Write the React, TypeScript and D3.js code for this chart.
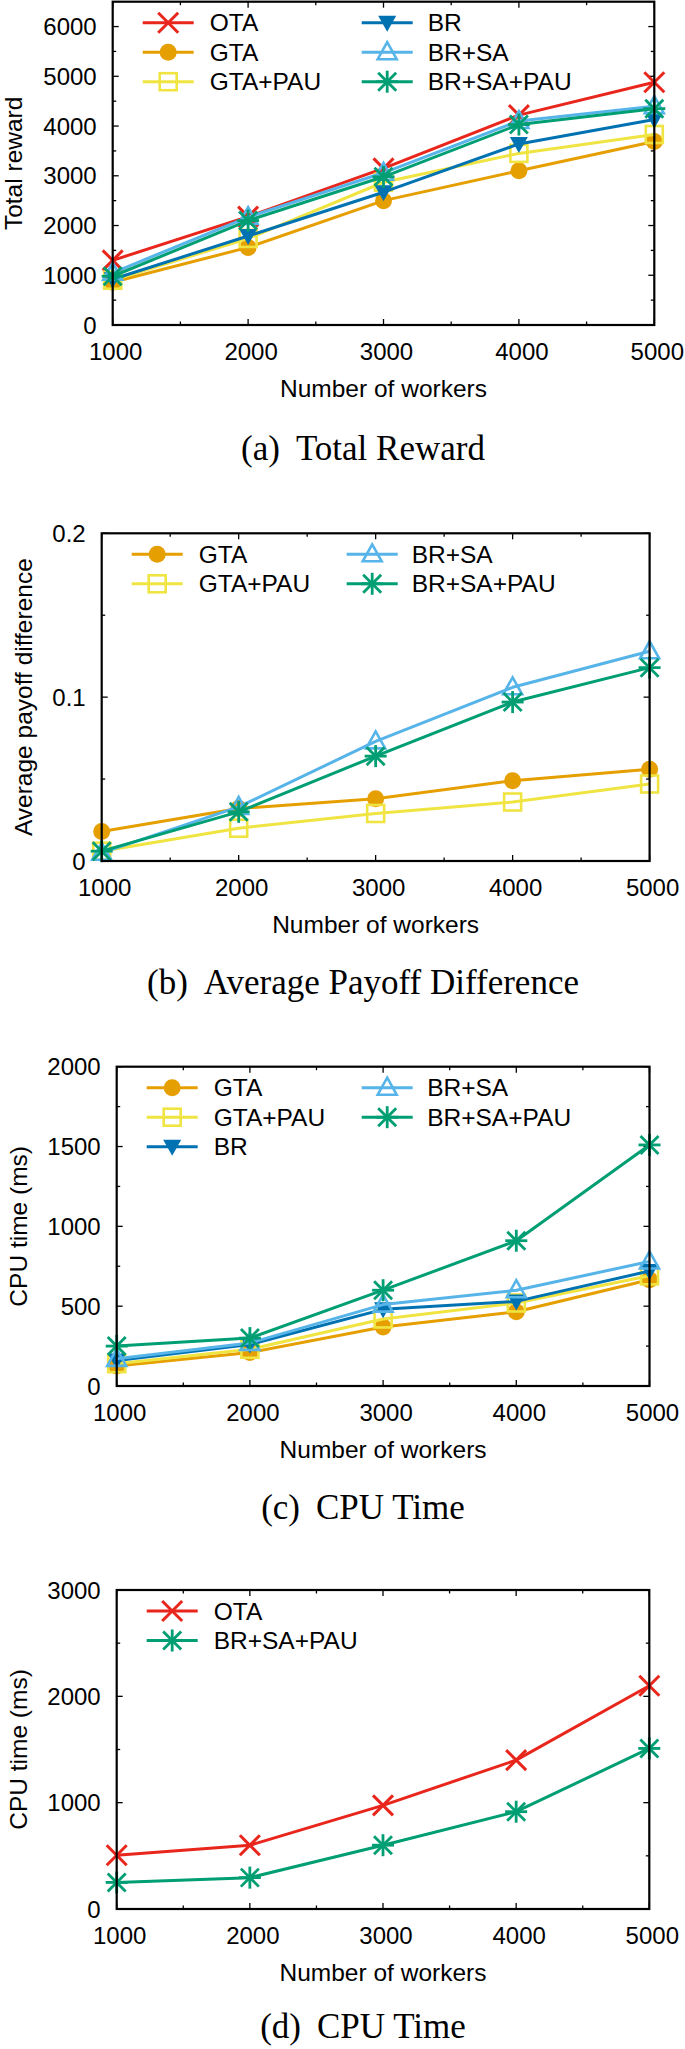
import React from "react";
import * as d3 from "d3";

// ---------- data ----------
const workers = [1000, 2000, 3000, 4000, 5000];
const xTicks = [1000, 2000, 3000, 4000, 5000];

// (a) Total reward
const rewardOTA = [1300, 2180, 3150, 4220, 4880];
const rewardGTA = [860, 1560, 2500, 3100, 3690];
const rewardGTAPAU = [900, 1740, 2870, 3450, 3830];
const rewardBR = [920, 1790, 2670, 3640, 4130];
const rewardBRSA = [1050, 2170, 3060, 4100, 4400];
const rewardBRSAPAU = [980, 2100, 2980, 4030, 4350];

// (b) Average payoff difference
const payoffGTA = [0.018, 0.032, 0.038, 0.049, 0.056];
const payoffGTAPAU = [0.006, 0.02, 0.029, 0.036, 0.047];
const payoffBRSA = [0.005, 0.033, 0.073, 0.106, 0.128];
const payoffBRSAPAU = [0.006, 0.03, 0.064, 0.097, 0.118];

// (c) CPU time
const cpuGTA = [125, 210, 370, 465, 665];
const cpuGTAPAU = [140, 230, 420, 520, 690];
const cpuBR = [160, 260, 480, 530, 720];
const cpuBRSA = [170, 270, 510, 600, 780];
const cpuBRSAPAU = [250, 300, 600, 910, 1510];

// (d) CPU time
const cpu2OTA = [505, 600, 975, 1400, 2100];
const cpu2BRSAPAU = [250, 295, 600, 915, 1510];

const yTicksA = [0, 1000, 2000, 3000, 4000, 5000, 6000];
const yTicksB = [0, 0.1, 0.2];
const yTicksC = [0, 500, 1000, 1500, 2000];
const yTicksD = [0, 1000, 2000, 3000];

// ---------- styles ----------
const STYLE: Record<string, { color: string; shape: string }> = {
  OTA: { color: "#e8261c", shape: "x" },
  GTA: { color: "#e69f00", shape: "circle" },
  "GTA+PAU": { color: "#f0e442", shape: "square" },
  BR: { color: "#0072b2", shape: "tridown" },
  "BR+SA": { color: "#56b4e9", shape: "triup" },
  "BR+SA+PAU": { color: "#009e73", shape: "star" },
};

const SANS = "'Liberation Sans', Arial, Helvetica, sans-serif";
const SERIF = "'Liberation Serif', 'Times New Roman', serif";

function Marker({ shape, color, x, y }: { shape: string; color: string; x: number; y: number }) {
  const s = 10;
  switch (shape) {
    case "x":
      return (
        <g stroke={color} strokeWidth={3}>
          <line x1={x - s} y1={y - s} x2={x + s} y2={y + s} />
          <line x1={x - s} y1={y + s} x2={x + s} y2={y - s} />
        </g>
      );
    case "circle":
      return <circle cx={x} cy={y} r={8.5} fill={color} />;
    case "square":
      return <rect x={x - 8.5} y={y - 8.5} width={17} height={17} fill="none" stroke={color} strokeWidth={2.6} />;
    case "tridown":
      return <path d={`M${x - 9},${y - 7}L${x + 9},${y - 7}L${x},${y + 9}Z`} fill={color} />;
    case "triup":
      return <path d={`M${x - 9.5},${y + 7}L${x + 9.5},${y + 7}L${x},${y - 10}Z`} fill="none" stroke={color} strokeWidth={2.6} />;
    case "star":
      return (
        <g stroke={color} strokeWidth={2.8}>
          <line x1={x - 9} y1={y - 9} x2={x + 9} y2={y + 9} />
          <line x1={x - 9} y1={y + 9} x2={x + 9} y2={y - 9} />
          <line x1={x} y1={y - 11} x2={x} y2={y + 11} />
          <line x1={x - 11} y1={y} x2={x + 11} y2={y} />
        </g>
      );
  }
  return null;
}

type Series = { name: string; values: number[] };
type PanelProps = {
  left: number; right: number; top: number; bottom: number;
  yMax: number; yTicks: number[]; yMinor: number; fmt: (v: number) => string;
  series: Series[]; rows: number; col2Line: number; col2Text: number;
  yTitle: string; yTitleX: number; caption: [string, string]; captionY: number;
};

function Panel(p: PanelProps) {
  const x = d3.scaleLinear().domain([1000, 5000]).range([p.left, p.right]);
  const y = d3.scaleLinear().domain([0, p.yMax]).range([p.bottom, p.top]);
  const line = d3.line<number>().x((_, i) => x(workers[i])).y((v) => y(v));
  const xMinor = d3.range(1500, 5000, 1000);
  const yMinor = d3.range(p.yMinor, p.yMax, p.yMinor * 2);
  const cx = (p.left + p.right) / 2;
  const cy = (p.top + p.bottom) / 2;
  return (
    <g>
      {/* ticks */}
      <g stroke="#000" strokeWidth={1.3}>
        {xTicks.map((t) => (
          <g key={"xt" + t}>
            <line x1={x(t)} x2={x(t)} y1={p.bottom} y2={p.bottom - 6} />
            <line x1={x(t)} x2={x(t)} y1={p.top} y2={p.top + 6} />
          </g>
        ))}
        {xMinor.map((t) => (
          <g key={"xm" + t}>
            <line x1={x(t)} x2={x(t)} y1={p.bottom} y2={p.bottom - 3.5} />
            <line x1={x(t)} x2={x(t)} y1={p.top} y2={p.top + 3.5} />
          </g>
        ))}
        {p.yTicks.map((t) => (
          <g key={"yt" + t}>
            <line x1={p.left} x2={p.left + 6} y1={y(t)} y2={y(t)} />
            <line x1={p.right} x2={p.right - 6} y1={y(t)} y2={y(t)} />
          </g>
        ))}
        {yMinor.map((t) => (
          <g key={"ym" + t}>
            <line x1={p.left} x2={p.left + 3.5} y1={y(t)} y2={y(t)} />
            <line x1={p.right} x2={p.right - 3.5} y1={y(t)} y2={y(t)} />
          </g>
        ))}
      </g>
      {/* data */}
      {p.series.map((s) => {
        const st = STYLE[s.name];
        return (
          <g key={s.name}>
            <path d={line(s.values) || ""} fill="none" stroke={st.color} strokeWidth={3} strokeLinejoin="round" />
            {s.values.map((v, i) => (
              <Marker key={i} shape={st.shape} color={st.color} x={x(workers[i])} y={y(v)} />
            ))}
          </g>
        );
      })}
      {/* frame */}
      <rect x={p.left} y={p.top} width={p.right - p.left} height={p.bottom - p.top} fill="none" stroke="#000" strokeWidth={2.2} />
      {/* legend */}
      {p.series.map((s, i) => {
        const st = STYLE[s.name];
        const col = Math.floor(i / p.rows);
        const row = i % p.rows;
        const ly = p.top + 21 + row * 29.5;
        const lx = p.left + (col === 0 ? 30 : p.col2Line);
        const tx = p.left + (col === 0 ? 97 : p.col2Text);
        return (
          <g key={"lg" + s.name}>
            <line x1={lx} x2={lx + 51} y1={ly} y2={ly} stroke={st.color} strokeWidth={3} />
            <Marker shape={st.shape} color={st.color} x={lx + 25.5} y={ly} />
            <text x={tx} y={ly} dominantBaseline="central" fontFamily={SANS} fontSize={24.5} fill="#000">
              {s.name}
            </text>
          </g>
        );
      })}
      {/* tick labels */}
      <g fontFamily={SANS} fontSize={24} fill="#000">
        {xTicks.map((t) => (
          <text key={"xl" + t} x={x(t) + 3} y={p.bottom + 35} textAnchor="middle">
            {t}
          </text>
        ))}
        {p.yTicks.map((t) => (
          <text key={"yl" + t} x={p.left - 16} y={y(t)} textAnchor="end" dominantBaseline="central">
            {p.fmt(t)}
          </text>
        ))}
      </g>
      <text x={cx} y={p.bottom + 72} textAnchor="middle" fontFamily={SANS} fontSize={24.5}>
        Number of workers
      </text>
      <text transform={`translate(${p.yTitleX},${cy}) rotate(-90)`} textAnchor="middle" fontFamily={SANS} fontSize={24.5}>
        {p.yTitle}
      </text>
      <text x={363} y={p.captionY} textAnchor="middle" fontFamily={SERIF} fontSize={35}>
        {p.caption[0]}
        <tspan dx={16}>{p.caption[1]}</tspan>
      </text>
    </g>
  );
}

export default function App() {
  const intFmt = (v: number) => String(v);
  const decFmt = (v: number) => (v === 0 ? "0" : d3.format(".1f")(v));
  return (
    <svg width={685} height={2049} style={{ position: "absolute", left: 0, top: 0, background: "#fff" }}>
      <rect width={685} height={2049} fill="#fff" />
      <Panel
        left={112.7} right={654.3} top={1.7} bottom={325}
        yMax={6500} yTicks={yTicksA} yMinor={500} fmt={intFmt}
        series={[
          { name: "OTA", values: rewardOTA },
          { name: "GTA", values: rewardGTA },
          { name: "GTA+PAU", values: rewardGTAPAU },
          { name: "BR", values: rewardBR },
          { name: "BR+SA", values: rewardBRSA },
          { name: "BR+SA+PAU", values: rewardBRSAPAU },
        ]}
        rows={3} col2Line={249} col2Text={315}
        yTitle="Total reward" yTitleX={22} caption={["(a)", "Total Reward"]} captionY={460}
      />
      <Panel
        left={101.7} right={649.6} top={533.3} bottom={861}
        yMax={0.2} yTicks={yTicksB} yMinor={0.05} fmt={decFmt}
        series={[
          { name: "GTA", values: payoffGTA },
          { name: "GTA+PAU", values: payoffGTAPAU },
          { name: "BR+SA", values: payoffBRSA },
          { name: "BR+SA+PAU", values: payoffBRSAPAU },
        ]}
        rows={2} col2Line={245} col2Text={310}
        yTitle="Average payoff difference" yTitleX={31.5} caption={["(b)", "Average Payoff Difference"]} captionY={994}
      />
      <Panel
        left={116.7} right={649.5} top={1066.7} bottom={1386}
        yMax={2000} yTicks={yTicksC} yMinor={250} fmt={intFmt}
        series={[
          { name: "GTA", values: cpuGTA },
          { name: "GTA+PAU", values: cpuGTAPAU },
          { name: "BR", values: cpuBR },
          { name: "BR+SA", values: cpuBRSA },
          { name: "BR+SA+PAU", values: cpuBRSAPAU },
        ]}
        rows={3} col2Line={245} col2Text={310.5}
        yTitle="CPU time (ms)" yTitleX={27} caption={["(c)", "CPU Time"]} captionY={1519}
      />
      <Panel
        left={116.7} right={649.3} top={1590} bottom={1909}
        yMax={3000} yTicks={yTicksD} yMinor={500} fmt={intFmt}
        series={[
          { name: "OTA", values: cpu2OTA },
          { name: "BR+SA+PAU", values: cpu2BRSAPAU },
        ]}
        rows={2} col2Line={245} col2Text={310}
        yTitle="CPU time (ms)" yTitleX={27} caption={["(d)", "CPU Time"]} captionY={2038}
      />
    </svg>
  );
}
